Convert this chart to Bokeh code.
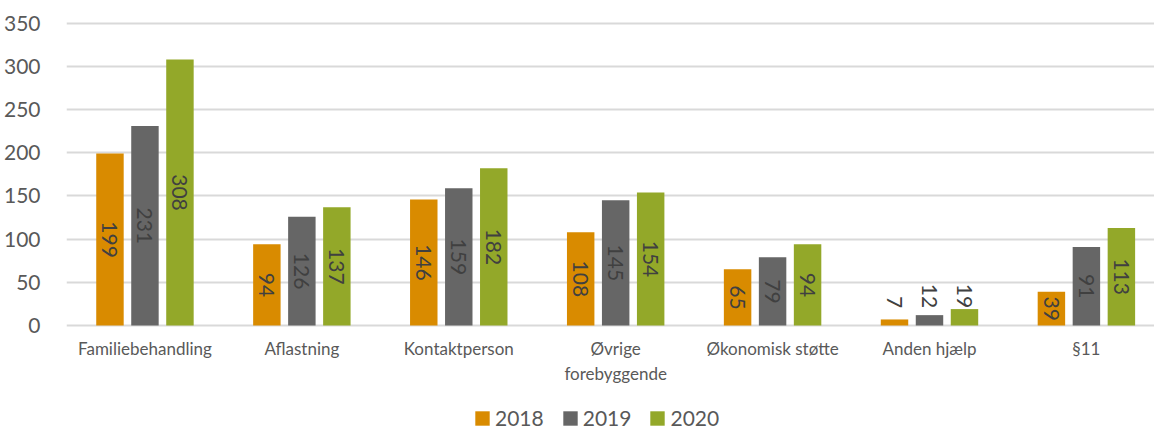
import math
from bokeh.plotting import figure
from bokeh.models import Range1d, FixedTicker, ColumnDataSource, Legend, LegendItem
from bokeh.embed import file_html
from bokeh.resources import INLINE
from bokeh.core.properties import value

categories = ["Familiebehandling", "Aflastning", "Kontaktperson", "Øvrige\nforebyggende",
              "Økonomisk støtte", "Anden hjælp", "§11"]
years = ["2018", "2019", "2020"]
v2018 = [199, 94, 146, 108, 65, 7, 39]
v2019 = [231, 126, 159, 145, 79, 12, 91]
v2020 = [308, 137, 182, 154, 94, 19, 113]
y_ticks = [0, 50, 100, 150, 200, 250, 300, 350]

series = [v2018, v2019, v2020]
colors = ["#D98B00", "#666666", "#93A829"]
FONT = "Lato"
TXT = "#595959"

# layout in pixels: frame spans the full height below the top border so that the
# category labels and legend can sit inside it, beneath the zero line
FRAME_H = 410
ZERO_PX = 305            # pixels from frame top to the zero line
PX_PER_UNIT = 302.3 / 350
y_top = (ZERO_PX / PX_PER_UNIT)
y_bottom = -(FRAME_H - ZERO_PX) / PX_PER_UNIT

p = figure(frame_width=1088, frame_height=FRAME_H, output_backend="svg", toolbar_location=None,
           x_range=Range1d(-0.5, 6.434), y_range=Range1d(y_bottom, y_top),
           min_border_left=59, min_border_right=0, min_border_top=20, min_border_bottom=0)
p.outline_line_color = None
p.background_fill_color = "white"
p.border_fill_color = "white"

offset = 0.223
bw = 0.175
renderers = []
for j, (vals, col) in enumerate(zip(series, colors)):
    xs = [i + (j - 1) * offset for i in range(len(categories))]
    src = ColumnDataSource(dict(x=xs, top=vals))
    r = p.vbar(x="x", top="top", width=bw, bottom=0, source=src,
               fill_color=col, line_color=None)
    renderers.append(r)
    inside = [(x, v) for x, v in zip(xs, vals) if v >= 30]
    outside = [(x, v) for x, v in zip(xs, vals) if v < 30]
    if inside:
        s_in = ColumnDataSource(dict(x=[a for a, b in inside], y=[b / 2 for a, b in inside],
                                     t=[str(b) for a, b in inside]))
        p.text(x="x", y="y", text="t", source=s_in, angle=-math.pi / 2,
               text_align="center", text_baseline="middle",
               text_font=value(FONT), text_font_size="21px", text_color="#404040")
    if outside:
        s_out = ColumnDataSource(dict(x=[a for a, b in outside], y=[max(b, 19) + 1 for a, b in outside],
                                      t=[str(b) for a, b in outside]))
        p.text(x="x", y="y", text="t", source=s_out, angle=-math.pi / 2,
               text_align="right", text_baseline="middle",
               text_font=value(FONT), text_font_size="21px", text_color="#404040")

# category labels beneath the zero line
cat_src = ColumnDataSource(dict(x=list(range(len(categories))),
                                y=[-12 / PX_PER_UNIT] * len(categories),
                                t=categories))
p.text(x="x", y="y", text="t", source=cat_src, text_align="center", text_baseline="top",
       text_font=value(FONT), text_font_size="17px", text_color=TXT, text_line_height=1.2)

p.xaxis.visible = False

p.yaxis.ticker = FixedTicker(ticks=y_ticks)
p.yaxis.axis_line_color = None
p.yaxis.major_tick_line_color = None
p.yaxis.minor_tick_line_color = None
p.yaxis.major_label_text_font = FONT
p.yaxis.major_label_text_font_size = "21px"
p.yaxis.major_label_text_color = TXT
p.yaxis.major_label_standoff = 20

p.xgrid.grid_line_color = None
p.ygrid.ticker = FixedTicker(ticks=y_ticks)
p.ygrid.grid_line_color = "#D9D9D9"
p.ygrid.grid_line_width = 2

legend = Legend(items=[LegendItem(label=y, renderers=[r]) for y, r in zip(years, renderers)],
                orientation="horizontal", location=(407, 0),
                label_text_font=FONT, label_text_font_size="21px", label_text_color=TXT,
                glyph_width=18, glyph_height=18, label_standoff=4, spacing=17,
                border_line_color=None, background_fill_alpha=0, padding=0, margin=0)
p.add_layout(legend, "center")

open("out.html", "w").write(file_html(p, INLINE))
